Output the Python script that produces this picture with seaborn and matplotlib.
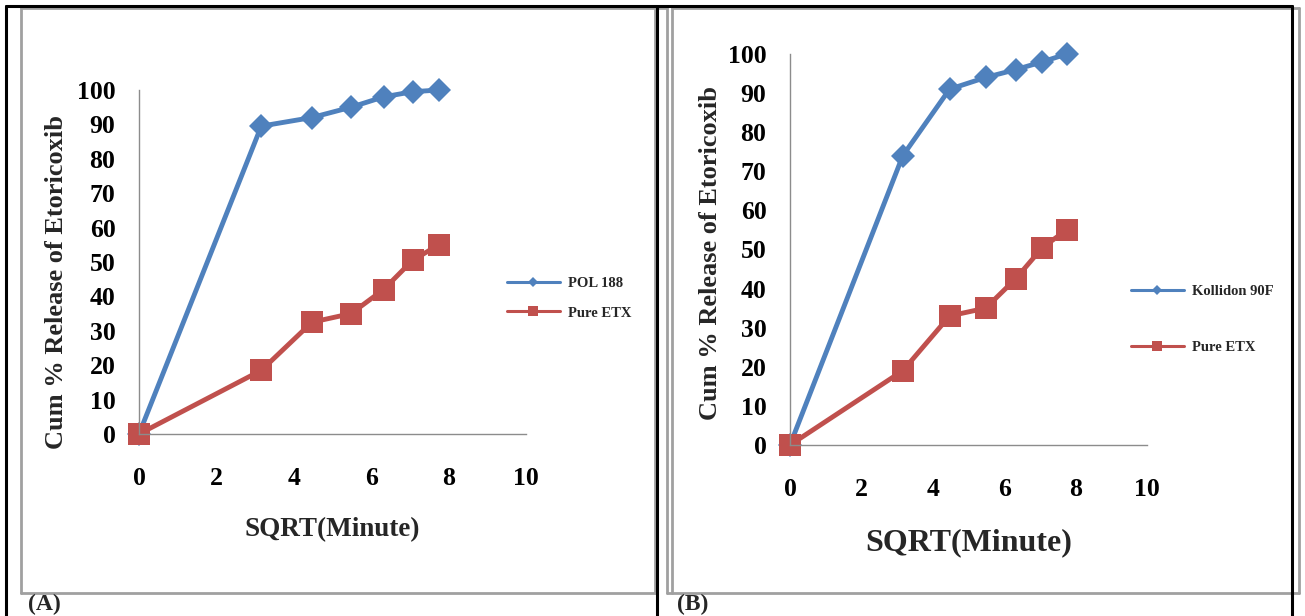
import numpy as np
import pandas as pd
import matplotlib
matplotlib.use("Agg")
import matplotlib.pyplot as plt
import seaborn as sns
from matplotlib.lines import Line2D

sqrt_minute = [0, 3.16, 4.47, 5.48, 6.32, 7.07, 7.75]
pol188 = [0, 89.5, 92, 95, 98, 99.5, 100]
pure_etx_a = [0, 18.5, 32.5, 35, 42, 50.5, 55]
kollidon = [0, 74, 91, 94, 96, 98, 100]
pure_etx_b = [0, 19, 33, 35, 42.5, 50.5, 55]
x_ticks = [0, 2, 4, 6, 8, 10]
y_ticks = list(range(0, 101, 10))

sns.set_theme(style="white")
plt.rcParams['font.family'] = ['Liberation Serif', 'DejaVu Serif']
plt.rcParams['font.weight'] = 'bold'

W, H = 1305, 616
fig = plt.figure(figsize=(W / 100, H / 100), dpi=100)
fig.patch.set_facecolor("white")

BLUE = "#4F81BD"
RED = "#C0504D"
GREY = "#8C8C8C"


def px_rect(l, t, r, b):
    return [l / W, 1 - b / H, (r - l) / W, (b - t) / H]


def fline(x0, y0, x1, y1, color, lw):
    fig.add_artist(Line2D([x0 / W, x1 / W], [1 - y0 / H, 1 - y1 / H],
                          color=color, lw=lw, transform=fig.transFigure))


# frames
fline(21, 8, 667, 8, "#A0A0A0", 2)
fline(21, 8, 21, 593, "#A0A0A0", 2)
fline(21, 593, 655, 593, "#A0A0A0", 2)
fline(655, 8, 655, 593, "#A0A0A0", 2)
fline(667, 8, 667, 593, "#A0A0A0", 2)
fline(672, 8, 1299, 8, "#A0A0A0", 2)
fline(672, 8, 672, 593, "#A0A0A0", 2)
fline(1299, 8, 1299, 593, "#A0A0A0", 2)
fline(667, 593, 1299, 593, "#A0A0A0", 2)
fline(6, 6, 1292, 6, "black", 2.2)
fline(6, 6, 6, 616, "black", 2.2)
fline(657, 6, 657, 616, "black", 2.2)
fline(1292, 6, 1292, 616, "black", 2.2)


def panel(rect, s1, name1, s2, ylab_fs, ylab_xy, xlab_fs, xlab_pad,
          leg_xy, leg_sp):
    ax = fig.add_axes(rect)
    df = pd.DataFrame({"x": sqrt_minute * 2, "y": s1 + s2,
                       "series": [name1] * len(s1) + ["Pure ETX"] * len(s2)})
    sns.lineplot(data=df, x="x", y="y", hue="series", style="series",
                 palette={name1: BLUE, "Pure ETX": RED},
                 markers={name1: "D", "Pure ETX": "s"},
                 dashes=False, lw=3.5, ax=ax, legend=False,
                 markeredgewidth=0, clip_on=False)
    for ln, ms in zip(ax.lines, [12.5, 16]):
        ln.set_markersize(ms)
        ln.set_clip_on(False)
    ax.set_xlim(0, 10)
    ax.set_ylim(0, 100)
    ax.set_xticks(x_ticks)
    ax.set_yticks(y_ticks)
    ax.set_xticklabels([str(v) for v in x_ticks], fontsize=18.5, fontweight='bold')
    ax.set_yticklabels([str(v) for v in y_ticks], fontsize=18.5, fontweight='bold')
    for sp in ["top", "right"]:
        ax.spines[sp].set_visible(False)
    for sp in ["left", "bottom"]:
        ax.spines[sp].set_color(GREY)
        ax.spines[sp].set_linewidth(1)
    ax.tick_params(axis="both", direction="out", length=5.5, width=1,
                   color=GREY, labelcolor="black")
    ax.tick_params(axis="x", pad=18)
    ax.tick_params(axis="y", pad=11.5)
    ax.set_facecolor("none")
    ax.set_ylabel("Cum % Release of Etoricoxib", fontsize=ylab_fs,
                  fontweight='bold')
    ax.yaxis.set_label_coords(*ylab_xy)
    ax.set_xlabel("SQRT(Minute)", fontsize=xlab_fs, fontweight='bold',
                  labelpad=xlab_pad)
    handles = [Line2D([], [], color=BLUE, lw=2.2, marker="D", ms=5,
                      markeredgewidth=0),
               Line2D([], [], color=RED, lw=2.2, marker="s", ms=7,
                      markeredgewidth=0)]
    fig.legend(handles, [name1, "Pure ETX"], loc="upper left",
               bbox_to_anchor=(leg_xy[0] / W, 1 - leg_xy[1] / H),
               frameon=False, handlelength=3.6, handletextpad=0.6,
               labelspacing=leg_sp, prop={"family": "Liberation Serif",
                                          "weight": "bold", "size": 10.5})
    return ax


axA = panel(px_rect(139, 90, 526, 434), pol188, "POL 188", pure_etx_a,
            19, (-0.183, 0.442), 19.5, 20, (494, 264), 1.1)
axB = panel(px_rect(790, 54, 1147, 445), kollidon, "Kollidon 90F", pure_etx_b,
            19, (-0.190, 0.491), 23, 20, (1118, 272), 2.9)

fig.text(28 / W, 1 - 604 / H, "(A)", fontsize=17, fontweight='bold',
         va="center", ha="left")
fig.text(677 / W, 1 - 604 / H, "(B)", fontsize=17, fontweight='bold',
         va="center", ha="left")

fig.savefig("out.png", dpi=100, facecolor="white")
